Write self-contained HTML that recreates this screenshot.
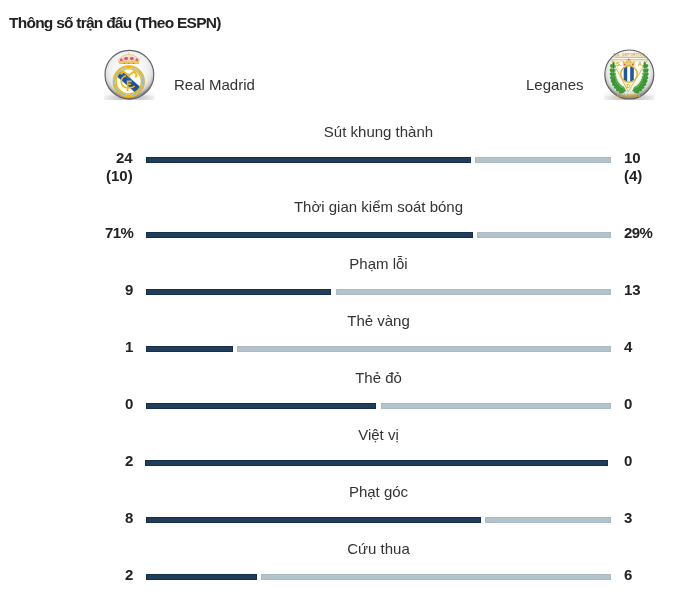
<!DOCTYPE html>
<html lang="vi">
<head>
<meta charset="utf-8">
<title>Thông số trận đấu</title>
<style>
html,body{margin:0;padding:0;background:#fff;}
body{width:697px;height:594px;position:relative;overflow:hidden;font-family:"Liberation Sans",Arial,sans-serif;color:#222;}
.title,.team,.lbl,.nl,.nr{will-change:transform;}
.title{position:absolute;left:9px;top:14px;font-size:15.5px;font-weight:bold;letter-spacing:-0.75px;line-height:18px;white-space:nowrap;color:#222;}
.logo{position:absolute;top:50px;width:50px;height:50px;}
.team{position:absolute;top:76px;font-size:15px;line-height:18px;white-space:nowrap;color:#333;}
.lbl{position:absolute;left:146px;width:465px;text-align:center;font-size:15px;line-height:18px;white-space:nowrap;color:#333;}
.nl{position:absolute;right:564px;text-align:right;font-size:15px;font-weight:bold;line-height:18px;white-space:nowrap;color:#222;}
.nr{position:absolute;left:624px;text-align:left;font-size:15px;font-weight:bold;line-height:18px;white-space:nowrap;color:#222;}
.d{position:absolute;height:6px;background:#203d59;box-shadow:inset 0 0 0 1px #142f4e;}
.l{position:absolute;height:6px;background:#b2c3cc;box-shadow:inset 0 0 0 1px #aabbc6;}
</style>
</head>
<body>
<div class="title">Thông số trận đấu (Theo ESPN)</div>

<svg class="logo" style="left:102px;top:48px;width:54px;height:54px" viewBox="0 0 54 54">
<defs>
<radialGradient id="rmS" cx="27" cy="22" r="27" gradientUnits="userSpaceOnUse">
<stop offset="0" stop-color="#ffffff"/>
<stop offset="0.5" stop-color="#f8f8f8"/>
<stop offset="0.72" stop-color="#efefef"/>
<stop offset="0.84" stop-color="#e2e2e2"/>
<stop offset="0.92" stop-color="#cacaca"/>
<stop offset="1" stop-color="#8e8e8e"/>
</radialGradient>
<radialGradient id="rmShd" cx="27.4" cy="50" r="26" gradientUnits="userSpaceOnUse" gradientTransform="translate(0 37.5) scale(1 0.25)">
<stop offset="0" stop-color="#b8b8b8"/>
<stop offset="0.6" stop-color="#d6d6d6"/>
<stop offset="1" stop-color="#f4f4f4"/>
</radialGradient>
<clipPath id="rmIn"><circle cx="26.8" cy="33.4" r="13.0"/></clipPath>
<linearGradient id="rmShdF" x1="0" y1="0" x2="0" y2="1">
<stop offset="0" stop-color="#fff" stop-opacity="1"/>
<stop offset="0.55" stop-color="#fff" stop-opacity="0"/>
</linearGradient>
</defs>
<rect x="2" y="43.5" width="50.5" height="8.5" fill="url(#rmShd)"/>
<rect x="2" y="43.5" width="50.5" height="8.5" fill="url(#rmShdF)"/>
<circle cx="27.4" cy="26.7" r="24.4" fill="url(#rmS)" stroke="#626262" stroke-width="1.15"/>
<!-- crown -->
<path d="M16.6 14.5 Q16 10.2 19.3 9.2 Q21.6 6.4 26.9 6.6 Q32.2 6.4 34.5 9.2 Q37.8 10.2 37.2 14.5 Z" fill="#f4ecd4"/>
<ellipse cx="19.3" cy="12" rx="1.5" ry="1.8" fill="#e7567a"/>
<ellipse cx="24.1" cy="10.6" rx="2.1" ry="1.8" fill="#e7567a"/>
<ellipse cx="29.8" cy="10.6" rx="2.1" ry="1.8" fill="#e7567a"/>
<ellipse cx="34.8" cy="12" rx="1.5" ry="1.8" fill="#e7567a"/>
<path d="M16.6 14.5 Q16 10.2 19.3 9.2 Q21.6 6.4 26.9 6.6 Q32.2 6.4 34.5 9.2 Q37.8 10.2 37.2 14.5" fill="none" stroke="#dcc283" stroke-width="0.8"/>
<path d="M21.4 7.8 L21.6 12.6 M26.9 6.6 L26.9 12.6 M32.4 7.8 L32.2 12.6" stroke="#e6d4a0" stroke-width="0.8"/>
<path d="M26.9 4.2 L26.9 7" stroke="#e2cd8e" stroke-width="1"/>
<circle cx="21.8" cy="12.4" r="0.6" fill="#f4c21c"/><circle cx="26.9" cy="12.4" r="0.6" fill="#f4c21c"/><circle cx="32" cy="12.4" r="0.6" fill="#f4c21c"/>
<rect x="17" y="12.9" width="20" height="3.2" rx="0.8" fill="#e6bf4a"/>
<rect x="17.4" y="13.6" width="19.2" height="0.9" fill="#f3d66e"/>
<circle cx="22.3" cy="15.3" r="0.65" fill="#4f7896"/><circle cx="26.9" cy="15.3" r="0.65" fill="#d0545a"/><circle cx="31.4" cy="15.3" r="0.65" fill="#4f7896"/>
<!-- ring -->
<circle cx="26.8" cy="33.4" r="16.2" fill="#a9c8e6"/>
<circle cx="26.8" cy="33.4" r="15.1" fill="#fff" stroke="#f4b800" stroke-width="1.6"/>
<circle cx="26.8" cy="33.4" r="13.9" fill="none" stroke="#8fb8de" stroke-width="1.2"/>
<!-- band -->
<g clip-path="url(#rmIn)">
<polygon points="8,12.4 46,45.8 46,55.8 8,22.4" fill="#1552ad"/>
<polygon points="16,22 30,33.2 30,34.2 16,23" fill="#5b8fd6" opacity="0.6"/>
</g>
<circle cx="26.8" cy="33.4" r="12.6" fill="none" stroke="#f4b800" stroke-width="1.3"/>
<!-- M -->
<path d="M18.6 26.2 L21.6 23.6 L25.8 26.8 L26.6 28.4 L27.4 26.8 L32.2 23.6 L34.4 26.4 Q34.8 28.4 33.2 29" fill="none" stroke="#f4b800" stroke-width="1.8" stroke-linejoin="round"/>
<circle cx="26.6" cy="26.1" r="0.8" fill="#a8cbe8"/>
<!-- C -->
<path d="M24 27.8 Q19.3 29.2 19.2 33.5 Q19.4 38.6 24.6 39.8" fill="none" stroke="#f4b800" stroke-width="1.7"/>
<!-- E / F -->
<path d="M29.6 33.4 L25.6 33.4 L25.6 43.2 M25.6 36.2 L29 36.2 M25.6 39.3 Q29.5 40.8 32.7 38.2" fill="none" stroke="#f4b800" stroke-width="1.6"/>
</svg>
<div class="team" style="left:174px">Real Madrid</div>
<div class="team" style="right:113px">Leganes</div>
<svg class="logo" style="left:602px;top:48px;width:54px;height:54px" viewBox="0 0 54 54">
<defs>
<radialGradient id="lgS" cx="27" cy="22" r="27" gradientUnits="userSpaceOnUse">
<stop offset="0" stop-color="#ffffff"/>
<stop offset="0.5" stop-color="#fbfbfb"/>
<stop offset="0.72" stop-color="#f0f0f0"/>
<stop offset="0.84" stop-color="#e2e2e2"/>
<stop offset="0.92" stop-color="#cacaca"/>
<stop offset="1" stop-color="#8e8e8e"/>
</radialGradient>
<radialGradient id="lgShd" cx="27.4" cy="50" r="26" gradientUnits="userSpaceOnUse" gradientTransform="translate(0 37.5) scale(1 0.25)">
<stop offset="0" stop-color="#b8b8b8"/>
<stop offset="0.6" stop-color="#d6d6d6"/>
<stop offset="1" stop-color="#f4f4f4"/>
</radialGradient>
<clipPath id="lgOv"><ellipse cx="27" cy="26" rx="7.6" ry="7.6"/></clipPath>
<linearGradient id="lgShdF" x1="0" y1="0" x2="0" y2="1">
<stop offset="0" stop-color="#fff" stop-opacity="1"/>
<stop offset="0.55" stop-color="#fff" stop-opacity="0"/>
</linearGradient>
</defs>
<rect x="2" y="43.5" width="50.5" height="8.5" fill="url(#lgShd)"/>
<rect x="2" y="43.5" width="50.5" height="8.5" fill="url(#lgShdF)"/>
<circle cx="27.3" cy="26.5" r="24.5" fill="url(#lgS)" stroke="#626262" stroke-width="1.15"/>
<!-- top text band -->
<text x="27" y="7.6" text-anchor="middle" font-family="Liberation Sans" font-weight="bold" font-size="3.4" fill="#c9a53a" letter-spacing="0.3">C.D. DEPORTIVO</text>
<line x1="12.5" y1="9.2" x2="43.8" y2="9.2" stroke="#cfa93a" stroke-width="1"/>
<!-- V -->
<path d="M9.5 11.8 L45.6 11.8 L26.3 43.6 Z" fill="#fff" stroke="#d7b23f" stroke-width="0.9" stroke-linejoin="round"/>
<path d="M12.3 13.2 L42.8 13.2 L26.3 40.6 Z" fill="none" stroke="#e3c35a" stroke-width="0.4"/>
<text x="16.8" y="17.9" text-anchor="middle" font-family="Liberation Sans" font-weight="bold" font-size="6" fill="#d4a423">S.</text>
<text x="38" y="17.9" text-anchor="middle" font-family="Liberation Sans" font-weight="bold" font-size="6" fill="#d4a423">A</text>
<!-- oval -->
<ellipse cx="27" cy="26" rx="8.3" ry="8.2" fill="#fff" stroke="#e2b32a" stroke-width="1.5"/>
<g clip-path="url(#lgOv)">
<rect x="21.7" y="16" width="3.5" height="20" fill="#1f55a8"/>
<rect x="28.2" y="16" width="3.6" height="20" fill="#1f55a8"/>
</g>
<!-- crown -->
<path d="M21.5 17.6 L21 13.3 L23.3 15 L25 12.5 L26.7 14.4 L28.4 12.5 L30.1 15 L32.4 13.3 L31.9 17.6 Z" fill="#e7c24a" stroke="#c99a20" stroke-width="0.4"/>
<rect x="22.5" y="15.3" width="8.4" height="1.3" fill="#cfe0b0"/>
<circle cx="26.7" cy="11.7" r="0.9" fill="#e04a2a"/>
<circle cx="22.7" cy="16.4" r="0.75" fill="#e04a2a"/>
<circle cx="30.7" cy="16.4" r="0.75" fill="#e04a2a"/>
<!-- letter below -->
<text x="26.4" y="39.8" text-anchor="middle" font-family="Liberation Sans" font-weight="bold" font-size="5" fill="#d2a92c">D</text>
<!-- laurels -->
<g id="lgL"><ellipse cx="19.85" cy="43.55" rx="3.13" ry="1.7" transform="rotate(-201.5 19.85 43.55)" fill="#3a9836"/><ellipse cx="21.16" cy="40.49" rx="2.66" ry="1.7" transform="rotate(-123.5 21.16 40.49)" fill="#56b446"/><ellipse cx="16.93" cy="41.67" rx="3.00" ry="1.7" transform="rotate(-191.4 16.93 41.67)" fill="#3a9836"/><ellipse cx="18.69" cy="39.00" rx="2.55" ry="1.7" transform="rotate(-113.4 18.69 39.00)" fill="#56b446"/><ellipse cx="14.53" cy="39.34" rx="2.87" ry="1.7" transform="rotate(-180.3 14.53 39.34)" fill="#3a9836"/><ellipse cx="16.66" cy="37.16" rx="2.44" ry="1.7" transform="rotate(-102.3 16.66 37.16)" fill="#56b446"/><ellipse cx="12.64" cy="36.62" rx="2.74" ry="1.7" transform="rotate(-169.0 12.64 36.62)" fill="#3a9836"/><ellipse cx="15.05" cy="34.98" rx="2.33" ry="1.7" transform="rotate(-91.0 15.05 34.98)" fill="#56b446"/><ellipse cx="11.24" cy="33.56" rx="2.62" ry="1.7" transform="rotate(-158.4 11.24 33.56)" fill="#3a9836"/><ellipse cx="13.79" cy="32.45" rx="2.22" ry="1.7" transform="rotate(-80.4 13.79 32.45)" fill="#56b446"/><ellipse cx="10.29" cy="30.18" rx="2.49" ry="1.7" transform="rotate(-149.0 10.29 30.18)" fill="#3a9836"/><ellipse cx="12.86" cy="29.53" rx="2.11" ry="1.7" transform="rotate(-71.0 12.86 29.53)" fill="#56b446"/><ellipse cx="9.77" cy="26.48" rx="2.36" ry="1.7" transform="rotate(-141.0 9.77 26.48)" fill="#3a9836"/><ellipse cx="12.26" cy="26.21" rx="2.00" ry="1.7" transform="rotate(-63.0 12.26 26.21)" fill="#56b446"/><ellipse cx="9.63" cy="22.44" rx="2.23" ry="1.7" transform="rotate(-134.4 9.63 22.44)" fill="#3a9836"/><ellipse cx="12.00" cy="22.45" rx="1.90" ry="1.7" transform="rotate(-56.4 12.00 22.45)" fill="#56b446"/><ellipse cx="9.88" cy="18.02" rx="2.10" ry="1.7" transform="rotate(-129.0 9.88 18.02)" fill="#3a9836"/><ellipse cx="12.11" cy="18.25" rx="1.79" ry="1.7" transform="rotate(-51.0 12.11 18.25)" fill="#56b446"/><ellipse cx="11.50" cy="15.80" rx="1.2" ry="2.6" fill="#4aa83f"/><path d="M24.0 43.0 Q8.5 38.5 11.5 15.0" fill="none" stroke="#2c7a2a" stroke-width="0.9"/></g>
<use href="#lgL" transform="translate(54.3 0) scale(-1 1)"/>
<!-- bottom text -->
<text x="26.5" y="49" text-anchor="middle" font-family="Liberation Sans" font-weight="bold" font-size="4.2" fill="#c9a53a" letter-spacing="0.5">LEGANÉS</text>
</svg>

<!-- row 1 -->
<div class="lbl" style="top:123px">Sút khung thành</div>
<div class="nl" style="top:149px">24<br>(10)</div>
<div class="d" style="top:157px;left:146px;width:325px"></div>
<div class="l" style="top:157px;left:475px;width:136px"></div>
<div class="nr" style="top:149px">10<br>(4)</div>

<!-- row 2 -->
<div class="lbl" style="top:198px">Thời gian kiểm soát bóng</div>
<div class="nl" style="top:224px;letter-spacing:-0.6px">71%</div>
<div class="d" style="top:232px;left:146px;width:327px"></div>
<div class="l" style="top:232px;left:477px;width:134px"></div>
<div class="nr" style="top:224px;letter-spacing:-0.6px">29%</div>

<!-- row 3 -->
<div class="lbl" style="top:255px">Phạm lỗi</div>
<div class="nl" style="top:281px">9</div>
<div class="d" style="top:289px;left:146px;width:185px"></div>
<div class="l" style="top:289px;left:336px;width:275px"></div>
<div class="nr" style="top:281px">13</div>

<!-- row 4 -->
<div class="lbl" style="top:312px">Thẻ vàng</div>
<div class="nl" style="top:338px">1</div>
<div class="d" style="top:346px;left:146px;width:87px"></div>
<div class="l" style="top:346px;left:237px;width:374px"></div>
<div class="nr" style="top:338px">4</div>

<!-- row 5 -->
<div class="lbl" style="top:369px">Thẻ đỏ</div>
<div class="nl" style="top:395px">0</div>
<div class="d" style="top:403px;left:146px;width:230px"></div>
<div class="l" style="top:403px;left:381px;width:230px"></div>
<div class="nr" style="top:395px">0</div>

<!-- row 6 -->
<div class="lbl" style="top:426px">Việt vị</div>
<div class="nl" style="top:452px">2</div>
<div class="d" style="top:460px;left:145px;width:463px"></div>
<div class="nr" style="top:452px">0</div>

<!-- row 7 -->
<div class="lbl" style="top:483px">Phạt góc</div>
<div class="nl" style="top:509px">8</div>
<div class="d" style="top:517px;left:146px;width:335px"></div>
<div class="l" style="top:517px;left:485px;width:126px"></div>
<div class="nr" style="top:509px">3</div>

<!-- row 8 -->
<div class="lbl" style="top:540px">Cứu thua</div>
<div class="nl" style="top:566px">2</div>
<div class="d" style="top:574px;left:146px;width:111px"></div>
<div class="l" style="top:574px;left:261px;width:350px"></div>
<div class="nr" style="top:566px">6</div>
</body>
</html>
